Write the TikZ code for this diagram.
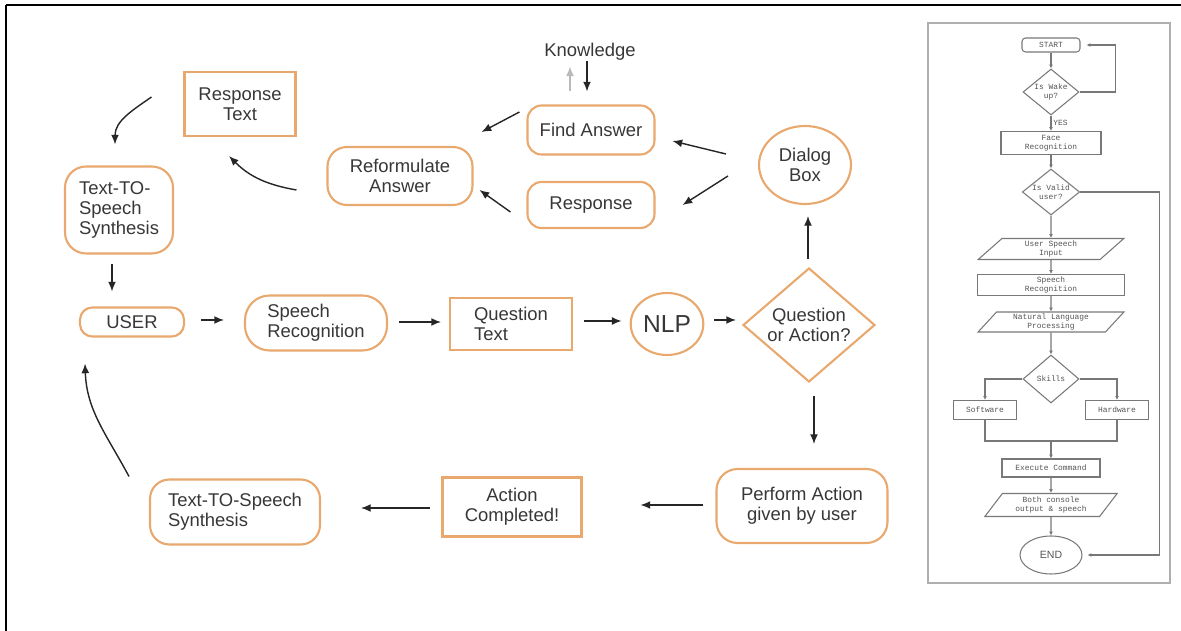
\documentclass[tikz,border=0pt]{standalone}
\usepackage{fontspec}
\setmainfont{Liberation Sans}
\newfontfamily\chartfont{Liberation Mono}
\usetikzlibrary{arrows.meta,calc,shapes.geometric}

\definecolor{boxline}{RGB}{232,168,110}
\definecolor{ink}{RGB}{55,55,55}
\definecolor{panelgray}{RGB}{175,175,175}
\definecolor{chartgray}{RGB}{120,120,120}

\begin{document}
\begin{tikzpicture}[x=0.02cm, y=0.02cm,
    every node/.style={text=ink, font=\fontsize{10.5}{11.5}\selectfont},
    roundbox/.style={draw=boxline, line width=1.2pt, rounded corners=8pt, align=center},
    plainbox/.style={draw=boxline, line width=1.2pt, align=center},
    bubble/.style={draw=boxline, line width=1.2pt, ellipse, align=center, inner sep=1pt},
    decision/.style={draw=boxline, line width=1.2pt, diamond, aspect=1.16, align=center, inner sep=0pt},
    arr/.style={draw=black!85, line width=0.8pt, -{Latex[length=5.5pt,width=4.5pt]}},
    % styles of the small flowchart on the right
    chart/.style={font=\chartfont\fontsize{4.5}{5.2}\selectfont, text=chartgray!70!black, align=center, inner sep=1pt},
    fbox/.style={chart, draw=chartgray, line width=0.6pt},
    fround/.style={fbox, rounded corners=2pt},
    fdec/.style={fbox, diamond, aspect=1.3, inner sep=0pt},
    fio/.style={fbox, trapezium, trapezium left angle=56, trapezium right angle=124, trapezium stretches=true},
    fline/.style={draw=chartgray, line width=0.6pt},
    farr/.style={fline, -{Latex[length=2.2pt,width=2.2pt]}}
]
    \useasboundingbox (0,0) rectangle (1181,-631);

    % Frame of the page
    \draw[line width=1.2pt] (1181,-5) -- (6,-5);
    \draw[line width=1.1pt] (6,-5) -- (6,-631);

    % Question branch
    \node (know) at (590,-52) {Knowledge};
    \node[roundbox, minimum width=2.54cm, minimum height=0.98cm] (findans) at (591,-130) {Find Answer};
    \node[roundbox, minimum width=2.54cm, minimum height=0.92cm] (response) at (591,-205) {Response};
    \node[bubble, minimum width=1.84cm, minimum height=1.56cm] (dialog) at (805,-165) {Dialog\\Box};
    \node[roundbox, rounded corners=11pt, minimum width=2.9cm, minimum height=1.16cm] (reform) at (400,-176) {Reformulate\\Answer};
    \node[plainbox, minimum width=2.22cm, minimum height=1.28cm] (resptext) at (240,-104) {Response\\Text};
    \node[roundbox, rounded corners=12pt, align=left, minimum width=2.16cm, minimum height=1.74cm] (tts1) at (119,-210) {Text-TO-\\Speech\\Synthesis};

    % Main row
    \node[roundbox, rounded corners=7pt, minimum width=2.08cm, minimum height=0.58cm] (user) at (132,-322) {USER};
    \node[roundbox, rounded corners=14pt, align=left, minimum width=2.84cm, minimum height=1.1cm] (sr) at (316,-323) {Speech\\Recognition};
    \node[plainbox, align=left, minimum width=2.44cm, minimum height=1.04cm] (qt) at (511,-324) {Question\\Text};
    \node[bubble, minimum width=1.44cm, minimum height=1.24cm, font=\fontsize{14}{16}\selectfont] (nlp) at (667,-324) {NLP};
    \node[decision, minimum width=2.64cm, minimum height=2.28cm] (dec) at (809,-325) {Question\\or Action?};

    % Action branch
    \node[roundbox, rounded corners=12pt, minimum width=3.42cm, minimum height=1.48cm] (perform) at (802,-506) {Perform Action\\given by user};
    \node[plainbox, minimum width=2.78cm, minimum height=1.18cm] (actc) at (512,-507) {Action\\Completed!};
    \node[roundbox, rounded corners=11pt, align=left, minimum width=3.4cm, minimum height=1.3cm] (tts2) at (235,-512) {Text-TO-Speech\\Synthesis};

    % Arrows
    \draw[arr, draw=gray!55] ($(findans.north)+(-21,13)$) -- ($(findans.north)+(-21,38)$);
    \draw[arr] ($(findans.north)+(-4,43)$) -- ($(findans.north)+(-4,13)$);
    \draw[arr] ($(dialog.west)+(-32,11)$) -- ($(findans.east)+(17,-11)$);
    \draw[arr] ($(dialog.west)+(-30,-11)$) -- ($(response.east)+(27,0)$);
    \draw[arr] ($(findans.west)+(-7,18)$) -- ($(reform.east)+(8,44)$);
    \draw[arr] ($(response.west)+(-16,-7)$) -- ($(reform.east)+(6,-14)$);
    \draw[arr] ($(reform.west)+(-30,-14)$) to[out=170, in=-45] ($(resptext.south)+(-11,-19)$);
    \draw[arr] ($(resptext.west)+(-32,7)$) to[out=215, in=90] ($(tts1.north)+(-4,21)$);
    \draw[arr] ($(tts1.south)+(-7,-9)$) -- ($(user.north)+(-20,15)$);
    \draw[arr] ($(user.east)+(16,2)$) -- ($(sr.west)+(-20,3)$);
    \draw[arr] ($(sr.east)+(11,1)$) -- ($(qt.west)+(-8,2)$);
    \draw[arr] ($(qt.east)+(11,3)$) -- ($(nlp.west)+(-8,3)$);
    \draw[arr] ($(nlp.east)+(10,4)$) -- ($(dec.west)+(-6,5)$);
    \draw[arr] ($(dec.north)+(-1,8)$) -- ($(dialog.south)+(3,-11)$);
    \draw[arr] ($(dec.south)+(5,-13)$) -- ($(perform.north)+(12,24)$);
    \draw[arr] ($(perform.west)+(-12,1)$) -- ($(actc.east)+(58,2)$);
    \draw[arr] ($(actc.west)+(-11,-1)$) -- ($(tts2.east)+(40,4)$);
    \draw[arr] ($(tts2.north west)+(-20,2)$) to[out=118, in=-88] ($(user.south)+(-47,-26)$);

    % Flowchart panel
    \draw[panelgray, line width=0.9pt] (928,-23) rectangle (1170,-583);

    \node[fround, minimum width=1.16cm, minimum height=0.28cm] (start) at (1051,-45) {START};
    \node[fdec, minimum width=1.12cm, minimum height=0.92cm] (d1) at (1051,-92) {Is Wake\\up?};
    \node[fbox, minimum width=2cm, minimum height=0.46cm] (face) at (1051,-143) {Face\\Recognition};
    \node[fdec, minimum width=1.12cm, minimum height=0.92cm] (d2) at (1051,-192) {Is Valid\\user?};
    \node[fio, minimum width=2.92cm, minimum height=0.42cm] (usi) at (1051,-249) {User Speech\\Input};
    \node[fbox, minimum width=2.94cm, minimum height=0.42cm] (sr2) at (1051,-285) {Speech\\Recognition};
    \node[fio, minimum width=2.92cm, minimum height=0.4cm] (nlp2) at (1051,-322) {Natural Language\\Processing};
    \node[fdec, minimum width=1.12cm, minimum height=0.96cm] (skills) at (1051,-379) {Skills};
    \node[fbox, minimum width=1.26cm, minimum height=0.38cm] (software) at (985,-410) {Software};
    \node[fbox, minimum width=1.26cm, minimum height=0.38cm] (hardware) at (1117,-410) {Hardware};
    \node[fbox, minimum width=1.96cm, minimum height=0.36cm] (exec) at (1051,-468) {Execute Command};
    \node[fio, minimum width=2.66cm, minimum height=0.46cm] (both) at (1051,-505) {Both console\\output \& speech};
    \node[fbox, ellipse, minimum width=1.24cm, minimum height=0.76cm, font=\fontsize{6}{7}\selectfont] (endn) at (1051,-555) {END};
    \coordinate (jn) at (1051,-441);

    \draw[farr] (start) -- (d1);
    \draw[farr] (d1.east) -- ($(d1.east)+(36,0)$) |- ($(start.east)+(6,0)$);
    \draw[farr] (d1) -- node[chart, right] {YES} (face);
    \draw[farr] (face) -- (d2);
    \draw[farr] (d2) -- (usi);
    \draw[farr] (d2.east) -- ($(d2.east)+(79,0)$) |- ($(endn.east)+(5,0)$);
    \draw[farr] (usi) -- (sr2);
    \draw[farr] (sr2) -- (nlp2);
    \draw[farr] (nlp2) -- (skills);
    \draw[farr] (skills.west) -| (software);
    \draw[farr] (skills.east) -| (hardware);
    \draw[fline] (software) |- (jn) -| (hardware);
    \draw[farr] (jn) -- (exec);
    \draw[farr] (exec) -- (both);
    \draw[farr] (both) -- (endn);
\end{tikzpicture}
\end{document}
